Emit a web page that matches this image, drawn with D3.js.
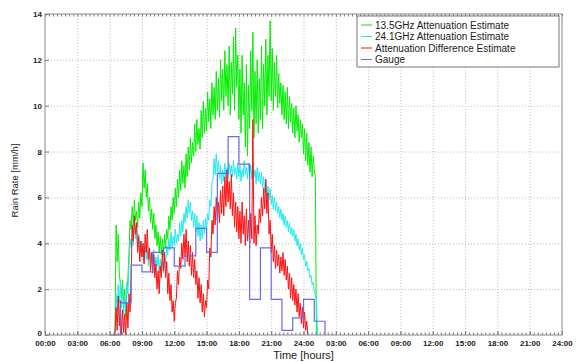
<!DOCTYPE html>
<html>
<head>
<meta charset="utf-8">
<script src="https://cdn.jsdelivr.net/npm/d3@7"></script>
<style>
  body { margin: 0; background: #fff; }
  text { font-family: "Liberation Sans", Arial, sans-serif; fill: #222; }
</style>
</head>
<body>
<div id="rain-chart"></div>
<script>
// hours since 00:00 of day one, labelled every 3 h over two days
const hourTicks = d3.range(0, 49, 3);
const hourLabels = ['00:00', '03:00', '06:00', '09:00', '12:00', '15:00', '18:00', '21:00', '24:00',
  '03:00', '06:00', '09:00', '12:00', '15:00', '18:00', '21:00', '24:00'];
const rateTicks = [0, 2, 4, 6, 8, 10, 12, 14];

// estimates are sampled every 0.1 h starting at 06:24
const estStart = 6.4;
const estStep = 0.1;

const att135 = [
  0.0, 0.3, 4.8, 3.2, 4.4, 2.6,
  2.3, 1.6, 2.4, 1.2, 2.0, 0.8, 1.9, 2.5, 3.6, 5.0,
  4.6, 5.6, 4.8, 5.9, 5.0, 5.4, 4.7, 5.8, 5.1, 6.2,
  5.6, 7.5, 6.4, 7.2, 6.0, 6.6, 5.4, 6.0, 4.9, 5.5,
  4.6, 5.3, 4.2, 4.8, 3.9, 4.5, 3.6, 4.3, 3.5, 4.2,
  3.4, 4.4, 3.8, 4.6, 4.2, 5.2, 4.6, 5.6, 5.0, 6.0,
  5.3, 6.4, 5.6, 6.8, 6.0, 7.2, 6.3, 7.6, 6.6, 7.4,
  6.4, 7.9, 6.9, 8.2, 7.2, 8.6, 7.5, 8.4, 7.8, 9.2,
  8.0, 9.4, 8.3, 9.0, 8.1, 9.8, 8.6, 10.2, 8.8, 9.9,
  8.9, 10.6, 9.3, 10.3, 9.0, 11.0, 9.6, 10.8, 9.4, 11.5,
  9.8, 11.2, 9.5, 12.0, 10.2, 11.6, 9.8, 12.4, 10.4, 11.8,
  10.0, 12.6, 9.6, 11.9, 10.5, 13.0, 9.8, 13.4, 10.8, 12.2,
  9.4, 11.6, 8.8, 12.2, 9.6, 11.0, 8.2, 11.8, 7.8, 10.9,
  9.0, 12.4, 9.8, 13.2, 8.6, 11.5, 9.2, 12.0, 8.8, 11.2,
  9.4, 12.6, 9.0, 11.8, 10.0, 12.9, 9.6, 12.2, 10.4, 13.7,
  10.2, 12.5, 9.8, 11.9, 10.4, 12.2, 9.9, 11.4, 10.1, 11.0,
  9.6, 10.9, 9.4, 10.6, 9.2, 10.8, 9.0, 10.4, 9.3, 10.1,
  8.8, 9.9, 8.6, 10.0, 8.9, 9.6, 8.4, 9.4, 8.6, 9.2,
  7.9, 9.0, 7.6, 8.8, 7.4, 8.4, 7.1, 8.2, 6.9, 7.8,
  7.2, 6.9, 0.0
];

const att241 = [
  0.0, 0.2, 1.8, 1.0, 2.2, 1.4,
  2.4, 1.2, 2.0, 0.9, 1.7, 1.1, 2.3, 1.8, 3.0, 4.2,
  3.8, 4.6, 3.9, 5.0, 4.2, 4.8, 3.8, 4.4, 3.6, 4.1,
  3.4, 4.0, 3.2, 3.9, 3.3, 3.7, 3.0, 3.8, 3.2, 3.6,
  3.1, 3.7, 2.9, 3.4, 3.0, 3.5, 2.7, 3.3, 2.8, 3.2,
  2.7, 3.4, 3.1, 3.9, 3.5, 4.2, 3.7, 4.5, 3.8, 4.3,
  3.9, 4.6, 4.0, 4.4, 4.1, 4.9, 4.3, 5.0, 4.5, 5.3,
  4.9, 5.6, 5.1, 5.9, 5.3, 5.8, 5.0, 5.4, 4.7, 5.3,
  4.5, 5.2, 4.3, 4.9, 4.1, 4.8, 4.2, 5.0, 4.4, 5.1,
  4.6, 5.3, 5.0, 5.9, 5.6, 6.6, 6.8, 7.7, 7.0, 7.9,
  7.1, 7.6, 6.8, 7.4, 6.6, 7.2, 6.7, 7.5, 6.9, 7.3,
  6.8, 7.5, 7.0, 7.4, 6.9, 7.6, 7.0, 7.3, 6.8, 7.5,
  6.9, 7.4, 6.7, 7.2, 6.9, 7.6, 7.0, 7.3, 6.8, 7.5,
  7.0, 7.4, 6.8, 7.5, 6.9, 7.2, 6.6, 7.3, 6.7, 7.1,
  6.6, 7.1, 6.4, 6.9, 6.2, 6.7, 6.0, 6.5, 5.9, 6.4,
  5.7, 6.1, 5.5, 6.0, 5.4, 5.8, 5.3, 5.6, 5.1, 5.5,
  5.0, 5.3, 4.8, 5.2, 4.7, 5.0, 4.5, 4.9, 4.4, 4.7,
  4.3, 4.6, 4.1, 4.4, 3.9, 4.2, 3.7, 4.0, 3.5, 3.8,
  3.3, 3.5, 3.0, 3.2, 2.8, 2.9, 2.5, 2.6, 2.2, 2.3,
  1.9, 1.7, 1.5, 0.0
];

const attDiff = [
  0.0, 0.0, 1.2, 0.2, 1.7, 0.4,
  1.5, 0.0, 1.1, 0.1, 0.9, 0.0, 1.4, 0.3, 1.8, 1.0,
  2.6, 4.8, 4.1, 5.2, 4.4, 4.9, 3.6, 4.3, 3.2, 4.1,
  3.4, 4.0, 3.1, 4.4, 3.6, 4.6, 3.3, 3.8, 2.8, 3.6,
  2.7, 3.5, 2.5, 3.1, 2.0, 2.8, 1.8, 3.0, 2.5, 3.7,
  2.8, 3.6, 2.5, 3.2, 1.8, 2.7, 1.5, 2.2, 1.0, 1.5,
  0.6, 1.4, 1.6, 2.8, 2.2, 3.4, 2.9, 4.0, 3.3, 4.4,
  3.4, 4.6, 3.2, 4.1, 3.0, 3.9, 2.6, 3.6, 2.5, 3.3,
  2.2, 2.8, 1.6, 2.5, 1.4, 2.2, 1.0, 1.8, 0.8, 1.5,
  1.2, 2.4, 2.0, 3.8, 3.4, 5.0, 4.4, 5.6, 4.8, 6.0,
  5.0, 5.8, 4.9, 6.3, 5.3, 6.5, 5.2, 6.9, 5.6, 7.2,
  5.8, 6.7, 5.5, 7.0, 5.2, 6.2, 4.7, 5.8, 4.5, 5.6,
  4.2, 5.4, 4.0, 5.8, 4.4, 5.2, 3.9, 5.5, 4.1, 5.0,
  3.8, 5.3, 4.2, 9.4, 4.0, 5.2, 3.9, 4.8, 4.4, 5.5,
  4.9, 6.0, 5.2, 6.4, 5.5, 6.8, 5.3, 6.2, 4.4, 5.0,
  3.6, 4.4, 3.2, 3.9, 2.9, 3.7, 3.0, 3.5, 2.7, 3.4,
  2.8, 3.6, 2.6, 3.3, 2.4, 3.0, 2.0, 2.7, 1.6, 2.5,
  1.5, 2.2, 1.3, 2.0, 1.0, 1.8, 0.8, 1.4, 0.5, 1.2,
  0.3, 1.0, 0.2, 0.6, 0.0
];

// hourly gauge accumulation, held until the next hour
const gaugeHours = [6, 7, 8, 9, 10, 11, 12, 13, 14, 15, 16, 17, 18, 19, 20, 21, 22, 23, 24, 25, 26];
const gaugeRate = [0, 1.4, 3.05, 2.75, 3.6, 3.8, 3.0, 3.45, 4.65, 3.6, 7.05, 8.65, 7.45, 1.55, 3.8, 1.55, 0.2, 0.75, 1.55, 0.6, 0];

const seriesNames = ['13.5GHz Attenuation Estimate', '24.1GHz Attenuation Estimate', 'Attenuation Difference Estimate', 'Gauge'];
const seriesColors = ['#00ee00', '#22e8f0', '#ff1010', '#6a6ae6'];

const width = 576, height = 362;
const margin = { top: 14, right: 14, bottom: 27, left: 45 };
const graphWidth = width - margin.left - margin.right;
const graphHeight = height - margin.top - margin.bottom;

const svg = d3.select('#rain-chart')
  .append('svg')
  .attr('width', width)
  .attr('height', height);

const graph = svg.append('g').attr('transform', `translate(${margin.left}, ${margin.top})`);

const xScale = d3.scaleLinear().domain([0, 48]).range([0, graphWidth]);
const yScale = d3.scaleLinear().domain([0, 14]).range([graphHeight, 0]);

function drawGrid() {
  const xGrid = d3.axisBottom(xScale).tickValues(hourTicks.slice(1, -1)).tickSize(-graphHeight).tickFormat('');
  const yGrid = d3.axisLeft(yScale).tickValues(rateTicks.slice(1, -1)).tickSize(-graphWidth).tickFormat('');
  [graph.append('g').attr('transform', `translate(0, ${graphHeight})`).call(xGrid),
   graph.append('g').call(yGrid)].forEach(g => {
    g.select('.domain').remove();
    g.selectAll('line').attr('stroke', '#bdbdbd').attr('stroke-dasharray', '1,2');
  });
}

function drawSeries() {
  const estLine = d3.line()
    .x((d, i) => xScale(estStart + i * estStep))
    .y(d => yScale(d));

  [att135, att241, attDiff].forEach((values, k) => {
    graph.append('path')
      .datum(values)
      .attr('fill', 'none')
      .attr('stroke', seriesColors[k])
      .attr('stroke-width', 1)
      .attr('d', estLine);
  });

  const gaugeLine = d3.line()
    .curve(d3.curveStepAfter)
    .x((d, i) => xScale(gaugeHours[i]))
    .y(d => yScale(d));

  graph.append('path')
    .datum(gaugeRate)
    .attr('fill', 'none')
    .attr('stroke', seriesColors[3])
    .attr('stroke-width', 1.2)
    .attr('d', gaugeLine);
}

function drawAxes() {
  const minor = d3.range(0, 48.001, 0.375);
  const tickStyle = g => {
    g.select('.domain').remove();
    g.selectAll('line').attr('stroke', '#777');
  };
  graph.append('g').attr('transform', `translate(0, ${graphHeight})`)
    .call(d3.axisBottom(xScale).tickValues(minor).tickSize(-2.5).tickFormat('')).call(tickStyle);
  graph.append('g')
    .call(d3.axisTop(xScale).tickValues(minor).tickSize(-2.5).tickFormat('')).call(tickStyle);

  const xAxis = graph.append('g').attr('transform', `translate(0, ${graphHeight})`)
    .call(d3.axisBottom(xScale).tickValues(hourTicks).tickSize(-4).tickPadding(5.5)
      .tickFormat((d, i) => hourLabels[i]));
  xAxis.call(tickStyle);
  xAxis.selectAll('text').attr('font-size', 8).attr('font-weight', 'bold').attr('fill', '#222');

  const yAxis = graph.append('g')
    .call(d3.axisLeft(yScale).tickValues(rateTicks).tickSize(-4).tickPadding(3));
  yAxis.call(tickStyle);
  yAxis.selectAll('text').attr('font-size', 8).attr('font-weight', 'bold').attr('fill', '#222');
  yAxis.selectAll('text').filter(d => d === 0).attr('dy', '0.1em');

  graph.append('rect')
    .attr('width', graphWidth)
    .attr('height', graphHeight)
    .attr('fill', 'none')
    .attr('stroke', '#888')
    .attr('stroke-width', 1);

  graph.append('text')
    .attr('text-anchor', 'middle')
    .attr('x', graphWidth / 2)
    .attr('y', graphHeight + 24)
    .attr('font-size', 11)
    .text('Time [hours]');

  graph.append('text')
    .attr('text-anchor', 'middle')
    .attr('transform', `translate(-27, ${graphHeight / 2 + 6}) rotate(-90)`)
    .attr('font-size', 9.5)
    .text('Rain Rate [mm/h]');
}

function drawLegend() {
  const legend = svg.append('g').attr('transform', 'translate(357, 16)');
  legend.append('rect')
    .attr('width', 202)
    .attr('height', 51)
    .attr('fill', '#fff')
    .attr('stroke', '#777');

  const items = legend.selectAll('g.item')
    .data(seriesNames)
    .enter()
    .append('g')
    .attr('class', 'item')
    .attr('transform', (d, i) => `translate(0, ${9 + i * 11.5})`);

  items.append('line')
    .attr('x1', 4).attr('x2', 15)
    .attr('stroke', (d, i) => seriesColors[i]);

  items.append('text')
    .attr('x', 18)
    .attr('dy', '0.35em')
    .attr('font-size', 10)
    .text(d => d);
}

drawGrid();
drawSeries();
drawAxes();
drawLegend();
</script>
</body>
</html>
